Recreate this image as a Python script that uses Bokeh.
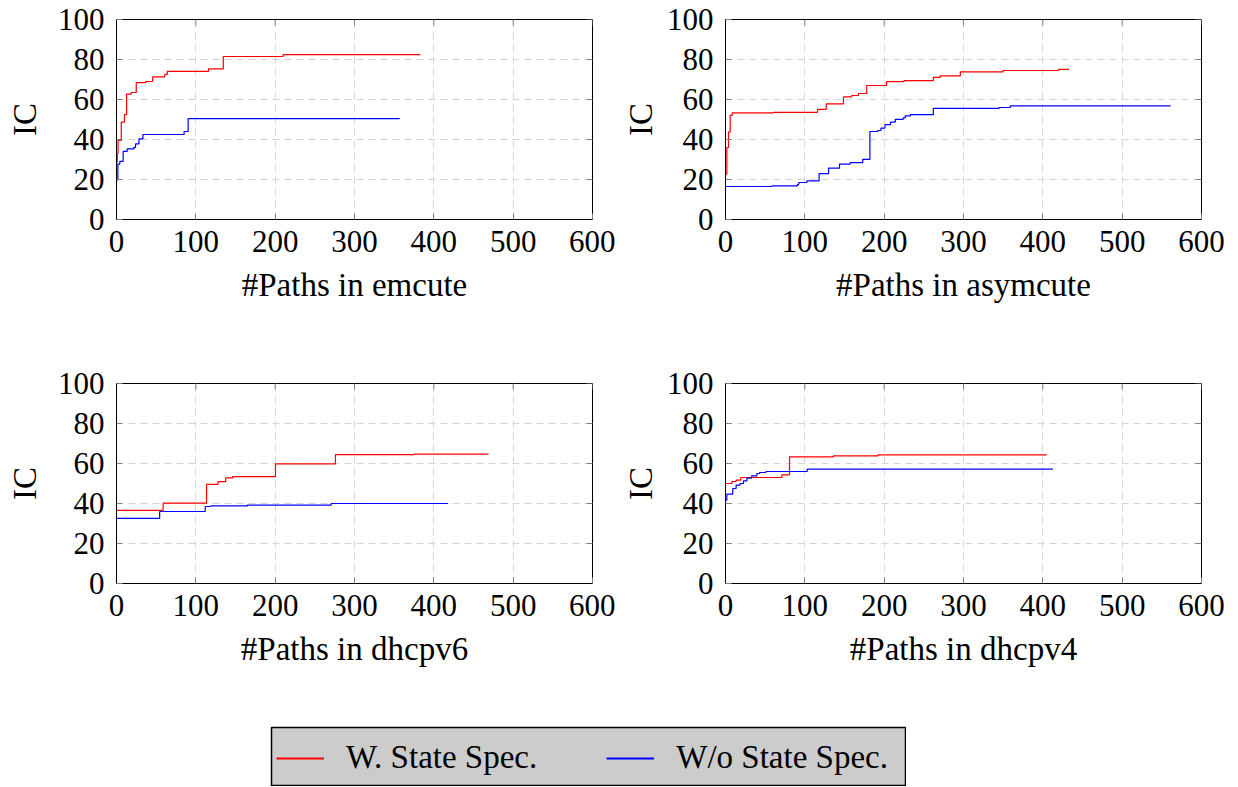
import math
from bokeh.plotting import figure
from bokeh.layouts import column, row
from bokeh.models import Legend, LegendItem, Spacer, FixedTicker, Range1d
from bokeh.embed import file_html
from bokeh.resources import INLINE

FONT = "Liberation Serif"
TICK_FS = "31px"
LABEL_FS = "33px"

# ---- data ----
x_ticks = [0, 100, 200, 300, 400, 500, 600]
y_ticks = [0, 20, 40, 60, 80, 100]
legend_labels = ["W. State Spec.", "W/o State Spec."]

emcute_red_x = [0, 1, 2, 6, 10, 12.7, 18.6, 24.9, 36.7, 45.6, 60.8, 64.1, 116, 134.6, 210, 383]
emcute_red_y = [28.6, 33, 39.5, 48.7, 52.4, 62.7, 63.5, 68.4, 69, 71.3, 72.6, 74.1, 75.3, 81.5, 82.4, 82.4]
emcute_blue_x = [0, 1.7, 4.2, 8.4, 13.5, 21.9, 24, 28.3, 33.3, 85.2, 90.3, 357]
emcute_blue_y = [19.8, 27.7, 29.1, 34.1, 35.3, 36.1, 37.8, 40.3, 42.5, 44, 50.4, 50.4]

asym_red_x = [0, 1.7, 3.8, 5.9, 8.4, 60.5, 116, 127, 148.7, 159, 167.6, 178, 203, 225, 262, 270.6, 296, 350, 420, 433]
asym_red_y = [22.7, 36, 43.7, 52.1, 53.3, 53.6, 55.1, 57.8, 61.3, 62, 63, 67, 68.9, 69.4, 71.1, 71.8, 73.8, 74.5, 75.1, 75.1]
asym_blue_x = [0, 58.4, 90.8, 92.4, 102.5, 118, 130, 143.7, 157, 173, 182, 192, 196, 201, 208, 214, 224, 226.5, 233, 262, 345, 359, 561]
asym_blue_y = [16.5, 16.8, 17.6, 18.5, 19.3, 22.9, 25.7, 27.7, 28.4, 30.1, 44, 44.5, 45.7, 47.4, 48.7, 50.1, 50.8, 51.8, 52.4, 55.6, 56, 56.8, 56.8]

v6_red_x = [0, 58.8, 113.5, 128, 137.6, 146.4, 200.4, 276, 375, 469]
v6_red_y = [36.6, 40.2, 49.6, 50.9, 52.8, 53.4, 59.8, 64.4, 64.7, 64.7]
v6_blue_x = [0, 54.4, 111.8, 119, 165, 270.6, 418]
v6_blue_y = [32.6, 36, 38.5, 38.8, 39.2, 40, 40]

v4_red_x = [0, 8, 13.4, 19.3, 71, 80.7, 136, 192, 405]
v4_red_y = [50, 51, 51.7, 53, 54.3, 63.3, 63.8, 64.3, 64.3]
v4_blue_x = [0, 1.7, 9.2, 13.4, 18.5, 22.7, 27, 33, 39.5, 43, 51, 103, 412.7]
v4_blue_y = [41.7, 44.7, 47.5, 49.2, 50, 51.3, 52.7, 53.8, 55, 55.5, 56, 57.2, 57.2]

TICK_COLOR = "#808080"


def panel(xlabel, rx, ry, bx, by, left, right, top, bottom, ylab_standoff):
    p = figure(width=left + 476 + right, height=top + 200 + bottom,
               x_range=Range1d(0, 600), y_range=Range1d(0, 100),
               output_backend="svg", toolbar_location=None,
               min_border_left=left, min_border_right=right,
               min_border_top=top, min_border_bottom=bottom)
    p.outline_line_color = "black"
    p.outline_line_alpha = 1
    p.xaxis.ticker = FixedTicker(ticks=x_ticks)
    p.yaxis.ticker = FixedTicker(ticks=y_ticks)
    p.xaxis.axis_label = xlabel
    p.yaxis.axis_label = "IC"
    for ax in p.xaxis + p.yaxis:
        ax.axis_line_color = "black"
        ax.major_tick_in = 6
        ax.major_tick_out = 0
        ax.major_tick_line_color = TICK_COLOR
        ax.minor_tick_line_color = None
        ax.major_label_text_font = FONT
        ax.major_label_text_font_size = TICK_FS
        ax.major_label_text_color = "black"
        ax.axis_label_text_font = FONT
        ax.axis_label_text_font_style = "normal"
        ax.axis_label_text_font_size = LABEL_FS
        ax.axis_label_text_color = "black"
    p.xaxis.major_label_standoff = 11
    p.yaxis.major_label_standoff = 12
    p.xaxis.axis_label_standoff = 12
    p.yaxis.axis_label_standoff = ylab_standoff
    for g in (p.xgrid, p.ygrid):
        g.grid_line_color = "#d6d6d6"
        g.grid_line_dash = "7 5"
        g.grid_line_width = 1
    # mirrored ticks on the top and right sides (clipped to the frame)
    p.scatter(x=x_ticks, y=[100] * len(x_ticks), marker="dash", angle=math.pi / 2,
              size=12, line_color=TICK_COLOR, line_width=1)
    p.scatter(x=[600] * len(y_ticks), y=y_ticks, marker="dash",
              size=12, line_color=TICK_COLOR, line_width=1)
    p.step(rx, ry, mode="after", line_color="#ff0000", line_width=1.2)
    p.step(bx, by, mode="after", line_color="#0000ff", line_width=1.2)
    return p


p1 = panel("#Paths in emcute", emcute_red_x, emcute_red_y, emcute_blue_x, emcute_blue_y,
           116, 23, 19, 139, 12)
p2 = panel("#Paths in asymcute", asym_red_x, asym_red_y, asym_blue_x, asym_blue_y,
           110, 25, 19, 139, 5)
p3 = panel("#Paths in dhcpv6", v6_red_x, v6_red_y, v6_blue_x, v6_blue_y,
           116, 23, 25, 143, 12)
p4 = panel("#Paths in dhcpv4", v4_red_x, v4_red_y, v4_blue_x, v4_blue_y,
           110, 25, 25, 143, 5)

lg = figure(width=636, height=60, output_backend="svg", toolbar_location=None,
            x_range=Range1d(0, 1), y_range=Range1d(1000, 1001),
            x_axis_location=None, y_axis_location=None,
            min_border_left=1, min_border_right=1, min_border_top=1, min_border_bottom=0)
lg.grid.visible = False
lg.background_fill_color = "#cccccc"
lg.outline_line_color = "black"
lg.outline_line_width = 1.5
# series renderers (outside this panel's visible range) used only for the legend glyphs
r1 = lg.step(emcute_red_x, emcute_red_y, mode="after", line_color="#ff0000", line_width=1.8)
r2 = lg.step(emcute_blue_x, emcute_blue_y, mode="after", line_color="#0000ff", line_width=1.8)
legend = Legend(items=[LegendItem(label=legend_labels[0], renderers=[r1]),
                       LegendItem(label=legend_labels[1], renderers=[r2])],
                orientation="horizontal", location=(5, 10),
                padding=0, margin=0, spacing=69, glyph_width=48, label_standoff=22,
                label_text_font=FONT, label_text_font_size=LABEL_FS,
                label_text_color="black",
                background_fill_alpha=0, border_line_color=None)
lg.add_layout(legend, "center")

layout = column(row(p1, p2), row(p3, p4), row(Spacer(width=270, height=60), lg))

open("out.html", "w").write(file_html(layout, INLINE))
